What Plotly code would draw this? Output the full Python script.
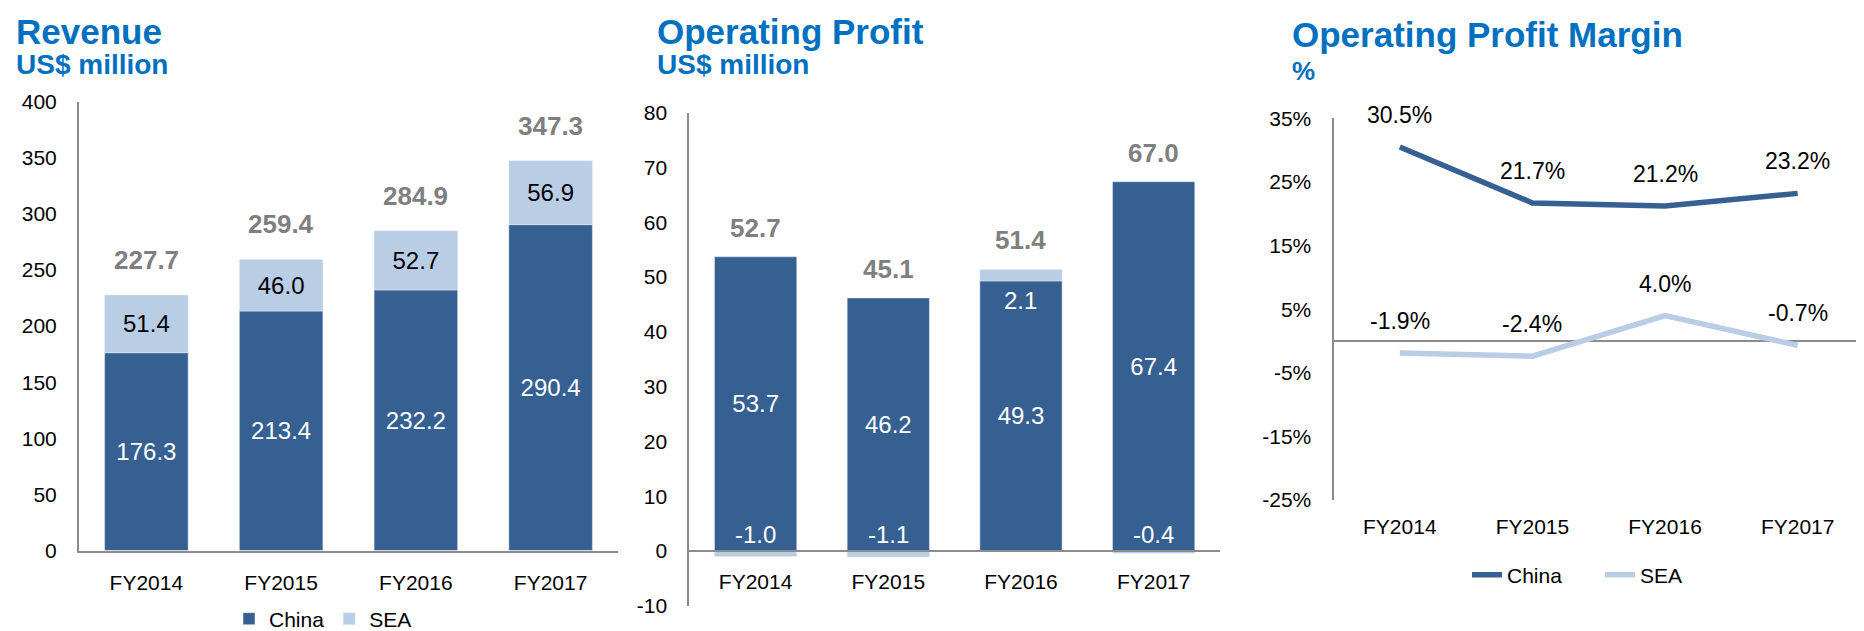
import plotly.graph_objects as go

# a página tem 8px de margem no body; a figura ocupa o resto da janela
OFF = 8
W, H = 1864 - OFF, 631 - OFF

anos = ['FY2014', 'FY2015', 'FY2016', 'FY2017']

receita_china = [176.3, 213.4, 232.2, 290.4]
receita_sea = [51.4, 46.0, 52.7, 56.9]
receita_total = [227.7, 259.4, 284.9, 347.3]

lucro_china = [53.7, 46.2, 49.3, 67.4]
lucro_sea = [-1.0, -1.1, 2.1, -0.4]
lucro_total = [52.7, 45.1, 51.4, 67.0]

margem_china = [30.5, 21.7, 21.2, 23.2]
margem_sea = [-1.9, -2.4, 4.0, -0.7]

ticks_receita = [0, 50, 100, 150, 200, 250, 300, 350, 400]
ticks_lucro = [-10, 0, 10, 20, 30, 40, 50, 60, 70, 80]
ticks_margem = [-25, -15, -5, 5, 15, 25, 35]

AZUL = '#376092'
AZUL_CLARO = '#B9CDE5'
TITULO = '#0070C0'
CINZA = '#7F7F7F'
LINHA = '#8C8C8C'
FONTE = 'Liberation Sans, Arial, sans-serif'


def px_x(x):
    return min((x - OFF) / W, 1.0)


def px_y(y):
    return 1 - (y - OFF) / H


fig = go.Figure()

# receita
fig.add_trace(go.Bar(x=anos, y=receita_china, name='China', marker_color=AZUL,
                     text=[f'{v:.1f}' for v in receita_china], textposition='inside',
                     insidetextanchor='middle', textangle=0,
                     textfont=dict(color='white', size=24), xaxis='x', yaxis='y',
                     legend='legend'))
fig.add_trace(go.Bar(x=anos, y=receita_sea, name='SEA', marker_color=AZUL_CLARO,
                     text=[f'{v:.1f}' for v in receita_sea], textposition='inside',
                     insidetextanchor='middle', textangle=0,
                     textfont=dict(color='black', size=24), xaxis='x', yaxis='y',
                     legend='legend'))

# lucro operacional
fig.add_trace(go.Bar(x=anos, y=lucro_china, name='China', marker_color=AZUL,
                     text=[f'{v:.1f}' for v in lucro_china], textposition='inside',
                     insidetextanchor='middle', textangle=0,
                     textfont=dict(color='white', size=24), xaxis='x2', yaxis='y2',
                     showlegend=False))
fig.add_trace(go.Bar(x=anos, y=lucro_sea, name='SEA', marker_color=AZUL_CLARO,
                     xaxis='x2', yaxis='y2', showlegend=False))

# margem
fig.add_trace(go.Scatter(x=anos, y=margem_china, name='China', mode='lines',
                         line=dict(color=AZUL, width=5.5), xaxis='x3', yaxis='y3',
                         legend='legend2'))
fig.add_trace(go.Scatter(x=anos, y=margem_sea, name='SEA', mode='lines',
                         line=dict(color=AZUL_CLARO, width=5.5), xaxis='x3', yaxis='y3',
                         legend='legend2'))

anotacoes = []
for ano, c, s, t in zip(anos, receita_china, receita_sea, receita_total):
    anotacoes.append(dict(x=ano, y=c + s, xref='x', yref='y', text=f'<b>{t:.1f}</b>',
                          showarrow=False, yanchor='middle', yshift=35,
                          font=dict(size=26, color=CINZA)))
for ano, c, s, t in zip(anos, lucro_china, lucro_sea, lucro_total):
    anotacoes.append(dict(x=ano, y=c + max(s, 0), xref='x2', yref='y2', text=f'<b>{t:.1f}</b>',
                          showarrow=False, yanchor='middle', yshift=29,
                          font=dict(size=26, color=CINZA)))
    if s < 0:
        anotacoes.append(dict(x=ano, y=0, xref='x2', yref='y2', text=f'{s:.1f}',
                              showarrow=False, yanchor='middle', yshift=17,
                              font=dict(size=24, color='white')))
    else:
        anotacoes.append(dict(x=ano, y=c, xref='x2', yref='y2', text=f'{s:.1f}',
                              showarrow=False, yanchor='middle', yshift=-20,
                              font=dict(size=24, color='white')))
for serie in (margem_china, margem_sea):
    for ano, v in zip(anos, serie):
        anotacoes.append(dict(x=ano, y=v, xref='x3', yref='y3', text=f'{v:.1f}%',
                              showarrow=False, yanchor='middle', yshift=32,
                              font=dict(size=23, color='black')))

titulos = [
    ('<b>Revenue</b>', 14, 31, 35),
    ('<b>US$ million</b>', 14, 65, 28),
    ('<b>Operating Profit</b>', 655, 31, 35),
    ('<b>US$ million</b>', 655, 65, 28),
    ('<b>Operating Profit Margin</b>', 1290, 34, 35),
    ('<b>%</b>', 1290, 71, 26),
]
for texto, x, y, tam in titulos:
    anotacoes.append(dict(x=px_x(x), y=px_y(y), xref='paper', yref='paper', text=texto,
                          showarrow=False, xanchor='left', yanchor='middle',
                          font=dict(size=tam, color=TITULO)))

eixo_x = dict(showgrid=False, zeroline=False, ticks='', tickfont=dict(size=21, color='black'),
              ticklabelstandoff=12, fixedrange=True, range=[-0.5, 3.5])
eixo_y = dict(showgrid=False, ticks='', showline=True, linecolor=LINHA, linewidth=2,
              tickfont=dict(size=21, color='black'), ticklabelstandoff=16)

fig.update_layout(
    width=W, height=H,
    margin=dict(l=0, r=0, t=0, b=0, autoexpand=False),
    paper_bgcolor='white', plot_bgcolor='white',
    font=dict(family=FONTE, color='black'),
    barmode='relative', bargap=0.38,
    xaxis=dict(eixo_x, domain=[px_x(79), px_x(618)], anchor='y', showline=True,
               linecolor=LINHA, linewidth=2),
    yaxis=dict(eixo_y, domain=[px_y(550.6), px_y(101.6)], anchor='x', range=[0, 400],
               tickvals=ticks_receita, zeroline=False),
    xaxis2=dict(eixo_x, domain=[px_x(689.3), px_x(1220)], anchor='free', position=px_y(551),
                showline=True, linecolor=LINHA, linewidth=2),
    yaxis2=dict(eixo_y, domain=[px_y(605.8), px_y(112.7)], anchor='x2', range=[-10, 80],
                tickvals=ticks_lucro, ticktext=[str(v) for v in ticks_lucro], zeroline=False),
    xaxis3=dict(eixo_x, domain=[px_x(1333.5), 1.0], anchor='y3', showline=False),
    yaxis3=dict(eixo_y, domain=[px_y(500), px_y(118.3)], anchor='x3', range=[-25, 35],
                tickvals=ticks_margem, ticktext=[f'{v}%' for v in ticks_margem],
                zeroline=True, zerolinecolor=LINHA, zerolinewidth=2),
    legend=dict(orientation='h', x=px_x(229), y=px_y(619), xanchor='left', yanchor='middle',
                font=dict(size=21), traceorder='normal', itemwidth=30,
                bgcolor='rgba(0,0,0,0)'),
    legend2=dict(orientation='h', x=px_x(1467), y=px_y(575), xanchor='left', yanchor='middle',
                 font=dict(size=21), traceorder='normal', itemwidth=30, entrywidth=88,
                 bgcolor='rgba(0,0,0,0)'),
    annotations=anotacoes,
    showlegend=True,
)

fig.write_html('out.html')
